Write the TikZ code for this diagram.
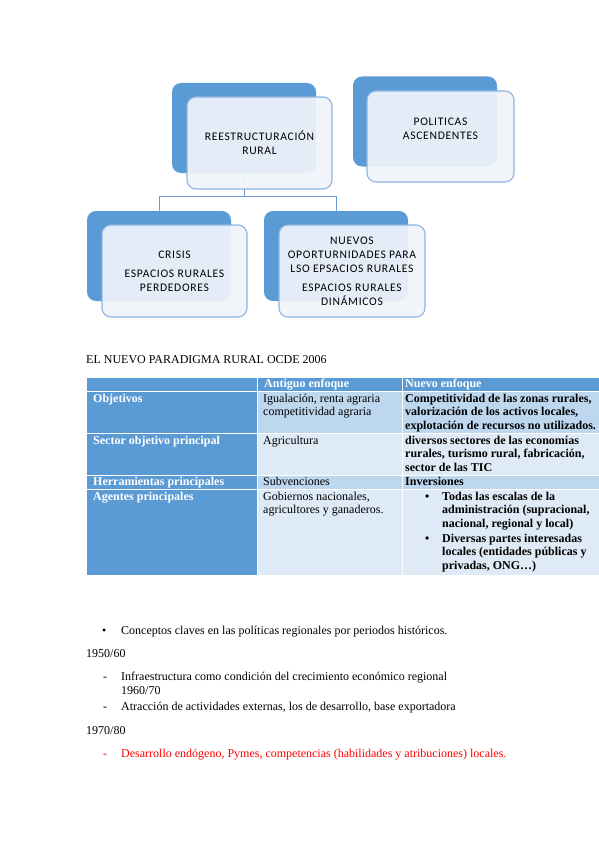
\documentclass[tikz,border=0pt]{standalone}
\usepackage{fontspec}
\setmainfont{Liberation Serif}
\newfontfamily\boxfont[LetterSpace=6]{Carlito}
\definecolor{boxblue}{HTML}{5B9BD5}
\definecolor{frontfill}{HTML}{F0F4FA}
\definecolor{frontline}{HTML}{8DB4E2}
\definecolor{connblue}{HTML}{6A9BD3}
\definecolor{celldark}{HTML}{BDD7EE}
\definecolor{celllight}{HTML}{DEEAF6}
\definecolor{redtext}{HTML}{FF0000}
\tikzset{
  backbox/.style={fill=boxblue, rounded corners=9pt, inner sep=0pt, minimum width=144pt, minimum height=90pt},
  frontbox/.style={fill=frontfill, fill opacity=0.92, text opacity=1, draw=frontline, line width=1.1pt, rounded corners=9pt, inner sep=0pt, minimum width=145pt, minimum height=92pt, align=center, font=\boxfont\fontsize{11.6}{14}\selectfont},
  boxtext/.style={align=center, inner sep=0pt, font=\boxfont\fontsize{11.6}{14}\selectfont},
  conn/.style={draw=connblue, line width=0.9pt},
  hdrcell/.style={fill=boxblue, draw=white, line width=0.8pt},
  darkcell/.style={fill=celldark, draw=white, line width=0.8pt},
  lightcell/.style={fill=celllight, draw=white, line width=0.8pt},
  hdrtext/.style={anchor=north west, inner sep=0pt, align=left, text=white, font=\bfseries\fontsize{12}{13.5}\selectfont},
  celltext/.style={anchor=north west, inner sep=0pt, align=left, font=\fontsize{12}{13.5}\selectfont},
  boldtext/.style={anchor=north west, inner sep=0pt, align=left, font=\bfseries\fontsize{12}{13.5}\selectfont},
  bodytext/.style={anchor=base west, inner sep=0pt, font=\fontsize{12}{14}\selectfont},
}
\begin{document}
\begin{tikzpicture}[x=1pt,y=-1pt]
\useasboundingbox (0,0) rectangle (599,848);
% ---- diagram boxes ----
\node[backbox] (rb) at (244,128) {};
\node[backbox] (pb) at (425,121.5) {};
\node[backbox] (cb) at (159,256) {};
\node[backbox] (nb) at (336,256) {};
\coordinate (hub) at (244,196);
\draw[conn] (rb.south) -- (hub) -| (cb.north);
\draw[conn] (hub) -| (nb.north);
\node[frontbox] (rf) at (259.5,143) {REESTRUCTURACIÓN\\RURAL};
\node[frontbox, minimum width=147pt, minimum height=91pt] (pf) at (440.5,136.5) {};
\node[boxtext] (pt) at (440.5,129) {POLITICAS\\ASCENDENTES};
\node[frontbox] (cf) at (174.5,271) {CRISIS\\[5pt]ESPACIOS RURALES\\PERDEDORES};
\node[frontbox, minimum width=146pt] (nf) at (352,271) {NUEVOS\\OPORTURNIDADES PARA\\LSO EPSACIOS RURALES\\[5pt]ESPACIOS RURALES\\DINÁMICOS};
% ---- title ----
\node[bodytext] (title) at (86,363) {EL NUEVO PARADIGMA RURAL OCDE 2006};
% ---- table ----
\path[hdrcell] (86,377) rectangle (257,391);
\path[hdrcell] (257,377) rectangle (402,391);
\path[hdrcell] (402,377) rectangle (605,391);
\path[hdrcell] (86,391) rectangle (257,433);
\path[darkcell] (257,391) rectangle (402,433);
\path[darkcell] (402,391) rectangle (605,433);
\path[hdrcell] (86,433) rectangle (257,475);
\path[lightcell] (257,433) rectangle (402,475);
\path[lightcell] (402,433) rectangle (605,475);
\path[hdrcell] (86,475) rectangle (257,489);
\path[darkcell] (257,475) rectangle (402,489);
\path[darkcell] (402,475) rectangle (605,489);
\path[hdrcell] (86,489) rectangle (257,575);
\path[lightcell] (257,489) rectangle (402,575);
\path[lightcell] (402,489) rectangle (605,575);
% header
\node[hdrtext] (h2) at (264,377.5) {\strut Antiguo enfoque};
\node[hdrtext] (h3) at (405,377.5) {\strut Nuevo enfoque};
% row 1
\node[hdrtext] (r1a) at (93,392.5) {\strut Objetivos};
\node[celltext] (r1b) at (263,392.5) {\strut Igualación, renta agraria\\competitividad agraria};
\node[boldtext] (r1c) at (405,392.5) {\strut Competitividad de las zonas rurales,\\valorización de los activos locales,\\explotación de recursos no utilizados.};
% row 2
\node[hdrtext] (r2a) at (93,434.5) {\strut Sector objetivo principal};
\node[celltext] (r2b) at (263,434.5) {\strut Agricultura};
\node[boldtext] (r2c) at (405,434.5) {\strut diversos sectores de las economías\\rurales, turismo rural, fabricación,\\sector de las TIC};
% row 3
\node[hdrtext] (r3a) at (93,475.5) {\strut Herramientas principales};
\node[celltext] (r3b) at (263,475.5) {\strut Subvenciones};
\node[boldtext] (r3c) at (405,475.5) {\strut Inversiones};
% row 4
\node[hdrtext] (r4a) at (93,490.5) {\strut Agentes principales};
\node[celltext] (r4b) at (263,490.5) {\strut Gobiernos nacionales,\\agricultores y ganaderos.};
\node[boldtext] (b1) at (425,490.5) {\strut •};
\node[boldtext] (r4c) at (442,490.5) {\strut Todas las escalas de la\\administración (supracional,\\nacional, regional y local)};
\node[boldtext] (b2) at (425,532.5) {\strut •};
\node[boldtext] (r4d) at (442,532.5) {\strut Diversas partes interesadas\\locales (entidades públicas y\\privadas, ONG…)};
% ---- body text ----
\node[bodytext] (l1b) at (102,634) {•};
\node[bodytext] (l1) at (121,634) {Conceptos claves en las políticas regionales por periodos históricos.};
\node[bodytext] (l2) at (86,657) {1950/60};
\node[bodytext] (l3d) at (103,680) {-};
\node[bodytext] (l3) at (121,680) {Infraestructura como condición del crecimiento económico regional};
\node[bodytext] (l4) at (121,694) {1960/70};
\node[bodytext] (l5d) at (103,710) {-};
\node[bodytext] (l5) at (121,710) {Atracción de actividades externas, los de desarrollo, base exportadora};
\node[bodytext] (l6) at (86,734) {1970/80};
\node[bodytext, text=redtext] (l7d) at (103,757) {-};
\node[bodytext, text=redtext] (l7) at (121,757) {Desarrollo endógeno, Pymes, competencias (habilidades y atribuciones) locales.};
\end{tikzpicture}
\end{document}
